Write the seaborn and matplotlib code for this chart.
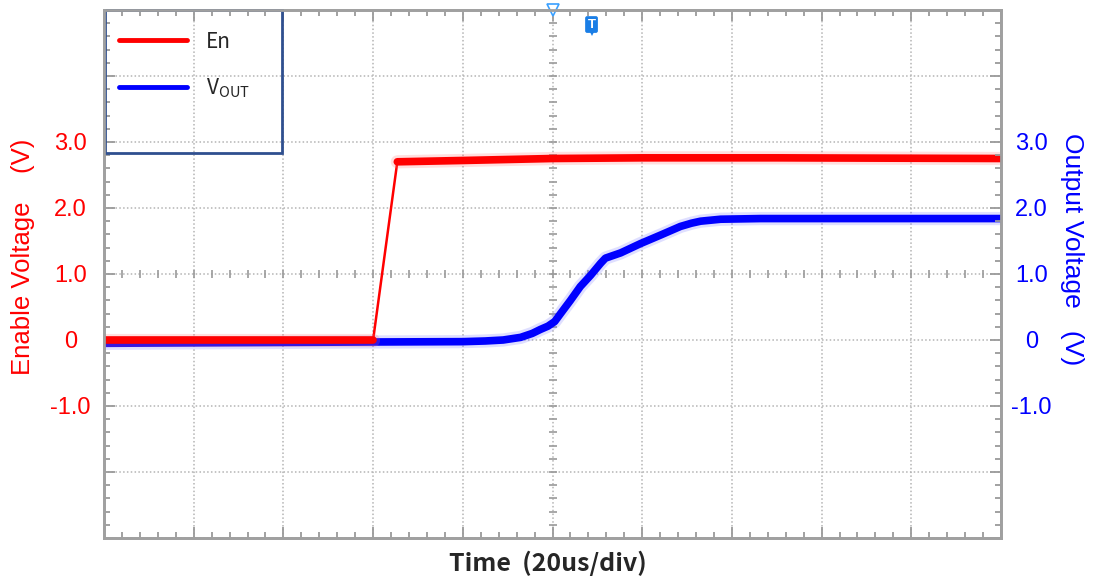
import numpy as np
import matplotlib
matplotlib.use("Agg")
import matplotlib.pyplot as plt
import seaborn as sns
from matplotlib.ticker import MultipleLocator, FixedLocator, FixedFormatter
from matplotlib.patches import Rectangle
from matplotlib.lines import Line2D

# ---- data (time in us relative to trigger, voltage in V) ----
t_en = np.array([-100, -70, -40, -34.6, -20, 0, 20, 50, 100])
v_en = np.array([0.0, 0.0, 0.0, 2.70, 2.72, 2.75, 2.76, 2.76, 2.75])

t_out = np.array([-100, -40, -20, -15, -11, -7.1, -4.5, -2.7, -1, 0.5, 1.8, 4.0,
                  6.2, 8.5, 10.7, 11.8, 15.2, 19.6, 24.1, 28.5, 31, 33, 37.5,
                  46.4, 70, 100])
v_out = np.array([-0.05, -0.03, -0.025, -0.015, 0.0, 0.04, 0.10, 0.16, 0.21,
                  0.28, 0.40, 0.60, 0.81, 0.98, 1.16, 1.24, 1.32, 1.46, 1.59,
                  1.72, 1.77, 1.80, 1.83, 1.84, 1.84, 1.84])

y_ticks = [-3, -2, -1, 0, 1, 2, 3, 4, 5]
y_labels = ["", "", "-1.0", "0", "1.0", "2.0", "3.0", "", ""]
series_names = ["En", r"V$_\mathregular{OUT}$"]

sns.set_theme(style="white")
plt.rcParams["font.family"] = ["Liberation Sans", "DejaVu Sans"]

fig = plt.figure(figsize=(10.95, 5.87), dpi=100)
ax = fig.add_axes([104 / 1095, 49 / 587, 897 / 1095, 528 / 587])
ax.set_xlim(-100, 100)
ax.set_ylim(-3, 5)

grid_c = "#b4b4b4"
tick_c = "#9a9a9a"
ax.grid(True, which="major", color=grid_c, linestyle=(0, (1, 1.5)), linewidth=1.1)

# ---- traces ----
sns.lineplot(x=t_out, y=v_out, ax=ax, color="#7070ff", lw=9.5, alpha=0.22,
             sort=False, estimator=None, legend=False, zorder=3)
sns.lineplot(x=t_out, y=v_out, ax=ax, color="#0000ff", lw=5.5,
             sort=False, estimator=None, legend=False, zorder=3)

sns.lineplot(x=t_en, y=v_en, ax=ax, color="#ff0000", lw=1.8,
             sort=False, estimator=None, legend=False, zorder=4)
low = t_en <= -40
high = t_en >= -34.6
for m in (low, high):
    sns.lineplot(x=t_en[m], y=v_en[m], ax=ax, color="#ff7070", lw=9.5, alpha=0.22,
                 sort=False, estimator=None, legend=False, zorder=4)
    sns.lineplot(x=t_en[m], y=v_en[m], ax=ax, color="#ff0000", lw=5.5,
                 sort=False, estimator=None, legend=False, zorder=4)

# ---- ticks ----
ax.xaxis.set_major_locator(MultipleLocator(20))
ax.xaxis.set_minor_locator(MultipleLocator(4))
ax.tick_params(axis="x", which="both", direction="in", top=True, bottom=True,
               labelbottom=False, color=tick_c, width=1.3)
ax.tick_params(axis="x", which="major", length=8)
ax.tick_params(axis="x", which="minor", length=4)

ax.yaxis.set_major_locator(FixedLocator(y_ticks))
ax.yaxis.set_major_formatter(FixedFormatter(y_labels))
ax.yaxis.set_minor_locator(MultipleLocator(0.2))
ax.tick_params(axis="y", which="both", direction="in", left=True, right=False,
               color=tick_c, width=1.3, labelcolor="#ff0000", labelsize=17, pad=24)
ax.tick_params(axis="y", which="major", length=8)
ax.tick_params(axis="y", which="minor", length=4)

ax2 = ax.twinx()
ax2.set_ylim(-3, 5)
ax2.yaxis.set_major_locator(FixedLocator(y_ticks))
ax2.yaxis.set_major_formatter(FixedFormatter(y_labels))
ax2.yaxis.set_minor_locator(MultipleLocator(0.2))
ax2.tick_params(axis="y", which="both", direction="in", right=True, left=False,
                color=tick_c, width=1.3, labelcolor="#0000ff", labelsize=17, pad=22)
ax2.tick_params(axis="y", which="major", length=8)
ax2.tick_params(axis="y", which="minor", length=4)
ax2.grid(False)

for a in (ax, ax2):
    for s in a.spines.values():
        s.set_color("#a0a0a0")
        s.set_linewidth(2)

fig.canvas.draw()
plt.setp(ax.get_yticklabels(), ha="center")
plt.setp(ax2.get_yticklabels(), ha="center")

# center-axis cross ticks
ax.plot(np.arange(-100, 100.1, 4), np.full(51, 1.0), ls="none", marker="|",
        ms=6, mew=1.2, color=tick_c, zorder=2)
ax.plot(np.zeros(41), np.arange(-3, 5.01, 0.2), ls="none", marker="_",
        ms=6, mew=1.2, color=tick_c, zorder=2)

# trigger markers
ax.plot([0], [5], marker="v", ms=8, mfc="white", mec="#3aa0ff", mew=1.2,
        clip_on=False, zorder=7)
ax.plot([8.7], [4.68], marker="v", ms=7, color="#1a7ee6", mew=0, zorder=7)
ax.text(8.7, 4.78, "T", color="white", fontsize=9.5, fontweight="bold",
        ha="center", va="center", zorder=8,
        bbox=dict(boxstyle="round,pad=0.18,rounding_size=0.15", fc="#1a7ee6", ec="none"))

# legend
handles = [Line2D([], [], color="#ff0000", lw=3.5),
           Line2D([], [], color="#0000ff", lw=3.5)]
ax.legend(handles, series_names, loc="upper left",
          bbox_to_anchor=(0.0, 1.0 - 6 / 528),
          borderaxespad=0, frameon=False, handlelength=3.3, handletextpad=0.9,
          labelspacing=1.15, borderpad=0.7,
          prop={"family": ["Noto Sans CJK SC", "DejaVu Sans"], "size": 15})
ax.add_patch(Rectangle((0.001, (538 - 153) / 528), 177 / 897, 143 / 528,
                       transform=ax.transAxes, fill=False, ec="#2f4f8f", lw=2,
                       zorder=6, clip_on=False))

# axis titles
fig.text(23 / 1095, 1 - 257 / 587, "Enable Voltage    (V)", rotation=90,
         ha="center", va="center", color="#ff0000", fontsize=18.5)
fig.text(1072 / 1095, 1 - 249 / 587, "Output Voltage   (V)", rotation=-90,
         ha="center", va="center", color="#0000ff", fontsize=19)
fig.text(548 / 1095, 1 - 563 / 587, "Time  (20us/div)", ha="center", va="center",
         fontsize=18, fontweight="bold",
         family=["Noto Sans CJK SC", "DejaVu Sans"])

fig.savefig("out.png", dpi=100)
